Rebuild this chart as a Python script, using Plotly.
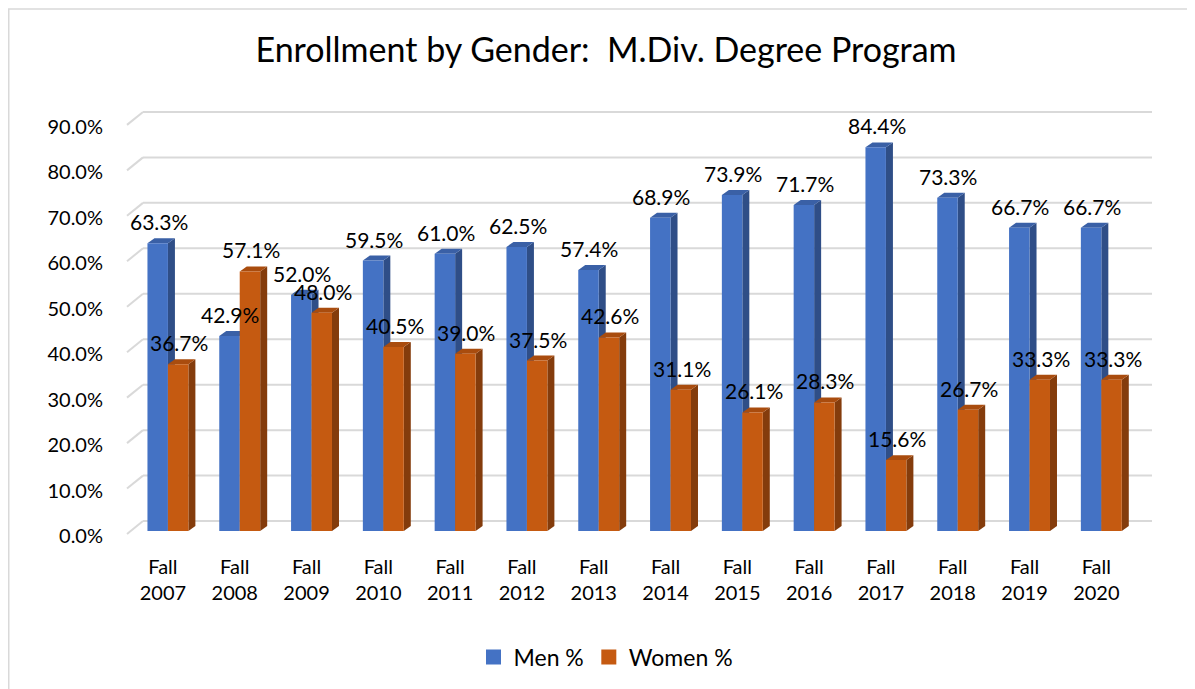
import plotly.graph_objects as go

categories = ["Fall<br>2007", "Fall<br>2008", "Fall<br>2009", "Fall<br>2010", "Fall<br>2011",
              "Fall<br>2012", "Fall<br>2013", "Fall<br>2014", "Fall<br>2015", "Fall<br>2016",
              "Fall<br>2017", "Fall<br>2018", "Fall<br>2019", "Fall<br>2020"]
men = [63.3, 42.9, 52.0, 59.5, 61.0, 62.5, 57.4, 68.9, 73.9, 71.7, 84.4, 73.3, 66.7, 66.7]
women = [36.7, 57.1, 48.0, 40.5, 39.0, 37.5, 42.6, 31.1, 26.1, 28.3, 15.6, 26.7, 33.3, 33.3]
y_ticks = [0, 10, 20, 30, 40, 50, 60, 70, 80, 90]

BLUE, BLUE_SIDE, BLUE_TOP = "#4472C4", "#2F4E87", "#3A60A6"
ORANGE, ORANGE_SIDE, ORANGE_TOP = "#C55A11", "#843C0C", "#A94C0E"
GRID = "#D9D9D9"
FONT = "Lato"

# The page body has an 8px margin, so the figure is drawn 8px in from the page corner.
OFF = 8
W, H = 1195 - OFF, 689 - OFF
PLOT_L, PLOT_R, PLOT_T, PLOT_B = 127, 1152, 100, 548   # page pixels
ML, MR, MT, MB = PLOT_L - OFF, W - (PLOT_R - OFF), PLOT_T - OFF, H - (PLOT_B - OFF)
PW, PH = PLOT_R - PLOT_L, PLOT_B - PLOT_T
PX_PER_CAT = 71.8
PX_PER_UNIT = 4.556
ZERO_PX = 532
X_RANGE = [-0.57, -0.57 + PW / PX_PER_CAT]
Y_RANGE = [-(PLOT_B - ZERO_PX) / PX_PER_UNIT, -(PLOT_B - ZERO_PX) / PX_PER_UNIT + PH / PX_PER_UNIT]

BARGAP = 0.43
bw = (1 - BARGAP) / 2
DX = 7 / PX_PER_CAT
DY = 5 / PX_PER_UNIT
BACK = 10 / PX_PER_UNIT
FRONT = -3 / PX_PER_UNIT

fig = go.Figure()
fig.add_trace(go.Bar(name="Men %", x=categories, y=men, marker=dict(color=BLUE, line=dict(width=0)),
                     showlegend=False))
fig.add_trace(go.Bar(name="Women %", x=categories, y=women, marker=dict(color=ORANGE, line=dict(width=0)),
                     showlegend=False))
# legend entries with larger square swatches
fig.add_trace(go.Scatter(name="Men %", x=[None], y=[None], mode="markers",
                         marker=dict(symbol="square", size=15, color=BLUE)))
fig.add_trace(go.Scatter(name="Women %", x=[None], y=[None], mode="markers",
                         marker=dict(symbol="square", size=15, color=ORANGE)))

shapes = []
gx0 = 16 / PW
for v in y_ticks:
    shapes.append(dict(type="line", xref="x domain", yref="y", x0=gx0, x1=1, y0=v + BACK, y1=v + BACK,
                       line=dict(color=GRID, width=2), layer="below"))
    shapes.append(dict(type="line", xref="x domain", yref="y", x0=0, x1=gx0, y0=v + FRONT, y1=v + BACK,
                       line=dict(color=GRID, width=2), layer="below"))

def faces(xl, xr, v, side_col, top_col):
    side = f"M {xr},0 L {xr},{v} L {xr + DX},{v + DY} L {xr + DX},{DY} Z"
    top = f"M {xl},{v} L {xr},{v} L {xr + DX},{v + DY} L {xl + DX},{v + DY} Z"
    return [dict(type="path", path=side, xref="x", yref="y", fillcolor=side_col, line=dict(width=0), layer="below"),
            dict(type="path", path=top, xref="x", yref="y", fillcolor=top_col, line=dict(width=0), layer="below")]

for i, m in enumerate(men):
    shapes += faces(i - bw, i, m, BLUE_SIDE, BLUE_TOP)
for i, w in enumerate(women):
    shapes += faces(i, i + bw, w, ORANGE_SIDE, ORANGE_TOP)

# chart border (left and top edges visible)
shapes.append(dict(type="rect", xref="paper", yref="paper",
                   x0=(OFF + 0.75 - PLOT_L) / PW, x1=(1195 + 20 - PLOT_L) / PW,
                   y0=(PLOT_B - 689 - 20) / PH, y1=(PLOT_B - OFF - 0.75) / PH,
                   line=dict(color="#D9D9D9", width=1.5), fillcolor="rgba(0,0,0,0)", layer="below"))

annotations = []
for i, (m, w) in enumerate(zip(men, women)):
    annotations.append(dict(x=i - bw / 2, y=m, xref="x", yref="y", text=f"{m:.1f}%", showarrow=False,
                            yanchor="bottom", yshift=7, xshift=1, font=dict(size=21, color="#000000", family=FONT)))
    annotations.append(dict(x=i + bw / 2, y=w, xref="x", yref="y", text=f"{w:.1f}%", showarrow=False,
                            yanchor="bottom", yshift=7, xshift=1, font=dict(size=21, color="#000000", family=FONT)))

fig.update_layout(
    width=W, height=H,
    margin=dict(l=ML, r=MR, t=MT, b=MB),
    paper_bgcolor="white", plot_bgcolor="white",
    barmode="group", bargap=BARGAP, bargroupgap=0,
    font=dict(family=FONT, size=20, color="#000000"),
    title=dict(text="Enrollment by Gender:  M.Div. Degree Program", x=(606 - OFF) / W, xanchor="center",
               y=1 - (50 - OFF) / H, yanchor="middle", font=dict(size=34, color="#000000", family=FONT)),
    xaxis=dict(type="category", range=X_RANGE, showgrid=False, zeroline=False, showline=False,
               ticks="", tickfont=dict(size=20), ticklabelshift=-5, ticklabelstandoff=6),
    yaxis=dict(range=Y_RANGE, showgrid=False, zeroline=False, showline=False,
               tickvals=y_ticks, ticktext=[f"{v:.1f}%" for v in y_ticks],
               ticks="", tickfont=dict(size=20), ticklabelstandoff=23, ticklabelshift=5),
    legend=dict(orientation="h", x=(606 - PLOT_L) / PW, xanchor="center", y=(PLOT_B - 657) / PH,
                yanchor="middle", font=dict(size=23), traceorder="normal", itemwidth=30),
    shapes=shapes,
    annotations=annotations,
)

fig.write_html("out.html")
